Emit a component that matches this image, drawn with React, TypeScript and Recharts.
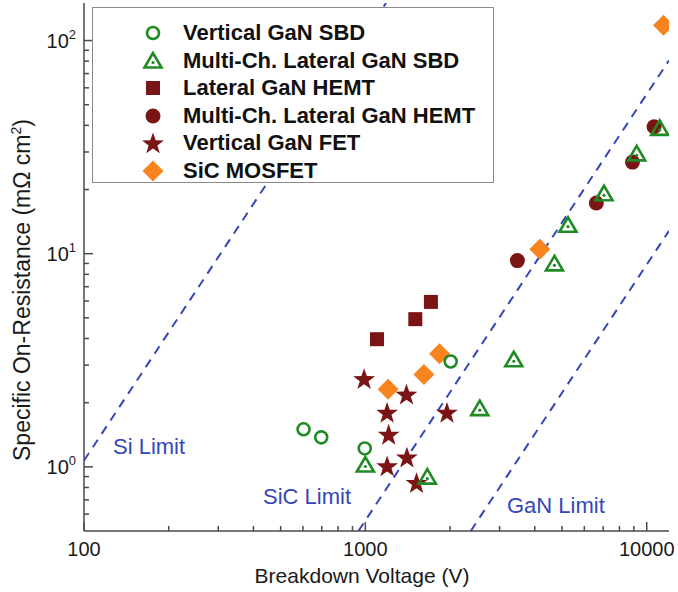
import { ScatterChart, Scatter, XAxis, YAxis, Legend } from "recharts";

const GREEN = "#1f8b24";
const MAROON = "#7b1515";
const ORANGE = "#f7841f";
const BLUE = "#3347b8";
const AXIS = "#4a4a4a";
const FONT = '"Liberation Sans", Arial, sans-serif';

// breakdown voltage (V) vs specific on-resistance (mOhm cm2)
const vertGanSbd = [
  { v: 603, r: 1.5 }, { v: 697, r: 1.375 }, { v: 995, r: 1.22 }, { v: 2010, r: 3.12 },
];
const multiChSbd = [
  { v: 1000, r: 1.02 }, { v: 1660, r: 0.895 }, { v: 2550, r: 1.875 }, { v: 3370, r: 3.18 },
  { v: 4700, r: 8.96 }, { v: 5250, r: 13.6 }, { v: 7050, r: 19.1 }, { v: 9210, r: 29.4 },
  { v: 11120, r: 38.7 },
];
const lateralHemt = [{ v: 1100, r: 3.97 }, { v: 1505, r: 4.93 }, { v: 1710, r: 5.94 }];
const multiChHemt = [
  { v: 3470, r: 9.28 }, { v: 6620, r: 17.3 }, { v: 8900, r: 26.9 }, { v: 10620, r: 39.4 },
];
const vertGanFet = [
  { v: 990, r: 2.59 }, { v: 1400, r: 2.19 }, { v: 1195, r: 1.8 }, { v: 1950, r: 1.8 },
  { v: 1210, r: 1.42 }, { v: 1405, r: 1.11 }, { v: 1195, r: 1.01 }, { v: 1520, r: 0.843 },
];
const sicMosfet = [
  { v: 1205, r: 2.31 }, { v: 1615, r: 2.71 }, { v: 1835, r: 3.39 }, { v: 4170, r: 10.5 },
  { v: 11470, r: 118 },
];

// material limit lines (end points)
const siLimit = [{ v: 100, r: 1.07 }, { v: 1184, r: 150 }];
const sicLimit = [{ v: 945, r: 0.5 }, { v: 12000, r: 80.7 }];
const ganLimit = [{ v: 2369, r: 0.5 }, { v: 12000, r: 12.8 }];

const X_TICKS = [100, 200, 300, 400, 500, 600, 700, 800, 900, 1000, 2000, 3000, 4000, 5000, 6000, 7000, 8000, 9000, 10000];
const X_MAJOR = [100, 1000, 10000];
const Y_TICKS = [0.6, 0.7, 0.8, 0.9, 1, 2, 3, 4, 5, 6, 7, 8, 9, 10, 20, 30, 40, 50, 60, 70, 80, 90, 100];
const Y_MAJOR = [1, 10, 100];

const LEGEND = [
  { kind: "circle", label: "Vertical GaN SBD" },
  { kind: "triangle", label: "Multi-Ch. Lateral GaN SBD" },
  { kind: "square", label: "Lateral GaN HEMT" },
  { kind: "dot", label: "Multi-Ch. Lateral GaN HEMT" },
  { kind: "star", label: "Vertical GaN FET" },
  { kind: "diamond", label: "SiC MOSFET" },
];

function starPath(cx: number, cy: number, ro: number, ri: number) {
  let d = "";
  for (let i = 0; i < 10; i++) {
    const rad = i % 2 === 0 ? ro : ri;
    const a = -Math.PI / 2 + (i * Math.PI) / 5;
    d += (i === 0 ? "M" : "L") + (cx + rad * Math.cos(a)).toFixed(2) + "," + (cy + rad * Math.sin(a)).toFixed(2);
  }
  return d + "Z";
}

function Marker({ kind, cx, cy }: { kind: string; cx: number; cy: number }) {
  switch (kind) {
    case "circle":
      return <circle cx={cx} cy={cy} r={6} fill="none" stroke={GREEN} strokeWidth={2.6} />;
    case "triangle":
      return (
        <g>
          <polygon
            points={`${cx},${cy - 8} ${cx - 8.5},${cy + 6.5} ${cx + 8.5},${cy + 6.5}`}
            fill="none" stroke={GREEN} strokeWidth={2.6} strokeLinejoin="miter"
          />
          <circle cx={cx} cy={cy + 1.5} r={1.6} fill={GREEN} />
        </g>
      );
    case "square":
      return <rect x={cx - 7} y={cy - 7} width={14} height={14} fill={MAROON} />;
    case "dot":
      return <circle cx={cx} cy={cy} r={7.5} fill={MAROON} />;
    case "star":
      return <path d={starPath(cx, cy + 1, 11.5, 4.6)} fill={MAROON} />;
    case "diamond":
      return <polygon points={`${cx},${cy - 10.5} ${cx + 10.5},${cy} ${cx},${cy + 10.5} ${cx - 10.5},${cy}`} fill={ORANGE} />;
    default:
      return <g />;
  }
}

const shapeOf = (kind: string) => (p: any) => <Marker kind={kind} cx={p.cx} cy={p.cy} />;

const XTick = ({ x, y, payload }: any) => {
  const v = payload.value;
  const major = X_MAJOR.includes(v);
  return (
    <g>
      <line x1={x} y1={y} x2={x} y2={y - (major ? 9 : 5)} stroke={AXIS} strokeWidth={1.5} />
      {major && (
        <text x={x} y={y + 25} textAnchor="middle" fontSize={20} fill="#1a1a1a" fontFamily={FONT}>
          {v}
        </text>
      )}
    </g>
  );
};

const YTick = ({ x, y, payload }: any) => {
  const v = payload.value;
  const major = Y_MAJOR.includes(v);
  return (
    <g>
      <line x1={x} y1={y} x2={x + (major ? 9 : 5)} y2={y} stroke={AXIS} strokeWidth={1.5} />
      {major && (
        <text x={x - 8} y={y + 7} textAnchor="end" fontSize={20} fill="#1a1a1a" fontFamily={FONT}>
          10
          <tspan dy={-9} fontSize={13}>{Math.round(Math.log10(v))}</tspan>
        </text>
      )}
    </g>
  );
};

const LegendBox = () => (
  <div
    style={{
      width: 402, height: 176, boxSizing: "border-box", border: "1.5px solid #8a8a8a",
      background: "#fff", position: "relative", fontFamily: FONT,
    }}
  >
    {LEGEND.map((item, i) => (
      <div key={item.label} style={{ position: "absolute", left: 0, top: 25 + i * 27.6 - 14, height: 28, width: 400 }}>
        <svg width={30} height={28} style={{ position: "absolute", left: 45, top: 0 }}>
          <Marker kind={item.kind} cx={15} cy={14} />
        </svg>
        <span
          style={{
            position: "absolute", left: 90, top: 0, lineHeight: "28px", fontSize: 22,
            fontWeight: "bold", color: "#111", whiteSpace: "nowrap",
          }}
        >
          {item.label}
        </span>
      </div>
    ))}
  </div>
);

const dashed = { stroke: BLUE, strokeWidth: 2, strokeDasharray: "9 7" };
const noShape = () => <g />;

export default function App() {
  return (
    <div style={{ position: "absolute", left: 0, top: 0, background: "#fff" }}>
      <ScatterChart width={678} height={592} margin={{ top: 3, right: 9, bottom: 0, left: 0 }} style={{ fontFamily: FONT }}>
        <XAxis
          type="number" dataKey="v" scale="log" domain={[100, 12000]} ticks={X_TICKS} interval={0}
          allowDataOverflow height={61} tickSize={0} tickMargin={0} tickLine={false}
          tick={<XTick />} axisLine={{ stroke: AXIS, strokeWidth: 1.5 }}
        />
        <YAxis
          type="number" dataKey="r" scale="log" domain={[0.5, 150]} ticks={Y_TICKS} interval={0}
          allowDataOverflow width={84} tickSize={0} tickMargin={0} tickLine={false}
          tick={<YTick />} axisLine={{ stroke: AXIS, strokeWidth: 1.5 }}
        />
        <XAxis
          xAxisId="top" orientation="top" type="number" scale="log" domain={[100, 12000]}
          height={0} tick={false} tickLine={false} axisLine={{ stroke: AXIS, strokeWidth: 1.5 }}
        />
        <YAxis
          yAxisId="right" orientation="right" type="number" scale="log" domain={[0.5, 150]}
          width={0} tick={false} tickLine={false} axisLine={{ stroke: AXIS, strokeWidth: 1.5 }}
        />

        <Scatter data={siLimit} line={dashed} shape={noShape} legendType="none" isAnimationActive={false} />
        <Scatter data={sicLimit} line={dashed} shape={noShape} legendType="none" isAnimationActive={false} />
        <Scatter data={ganLimit} line={dashed} shape={noShape} legendType="none" isAnimationActive={false} />

        <Scatter name="SiC MOSFET" data={sicMosfet} shape={shapeOf("diamond")} isAnimationActive={false} />
        <Scatter name="Multi-Ch. Lateral GaN HEMT" data={multiChHemt} shape={shapeOf("dot")} isAnimationActive={false} />
        <Scatter name="Lateral GaN HEMT" data={lateralHemt} shape={shapeOf("square")} isAnimationActive={false} />
        <Scatter name="Vertical GaN FET" data={vertGanFet} shape={shapeOf("star")} isAnimationActive={false} />
        <Scatter name="Multi-Ch. Lateral GaN SBD" data={multiChSbd} shape={shapeOf("triangle")} isAnimationActive={false} />
        <Scatter name="Vertical GaN SBD" data={vertGanSbd} shape={shapeOf("circle")} isAnimationActive={false} />

        <text x={113} y={454} fill={BLUE} fontSize={22} fontFamily={FONT}>Si Limit</text>
        <text x={263} y={504} fill={BLUE} fontSize={22} fontFamily={FONT}>SiC Limit</text>
        <text x={507} y={513} fill={BLUE} fontSize={22} fontFamily={FONT}>GaN Limit</text>

        <text x={362} y={583} textAnchor="middle" fontSize={21} fill="#1a1a1a" fontFamily={FONT}>
          Breakdown Voltage (V)
        </text>
        <text
          transform="rotate(-90)" x={-290} y={30} textAnchor="middle" fontSize={23}
          fill="#1a1a1a" fontFamily={FONT}
        >
          Specific On-Resistance (mΩ cm<tspan dy={-9} fontSize={14}>2</tspan><tspan dy={9}>)</tspan>
        </text>

        <Legend
          layout="vertical" align="center" verticalAlign="middle"
          wrapperStyle={{ left: 92, top: 7, width: 402, height: 176 }}
          content={() => <LegendBox />}
        />
      </ScatterChart>
    </div>
  );
}
